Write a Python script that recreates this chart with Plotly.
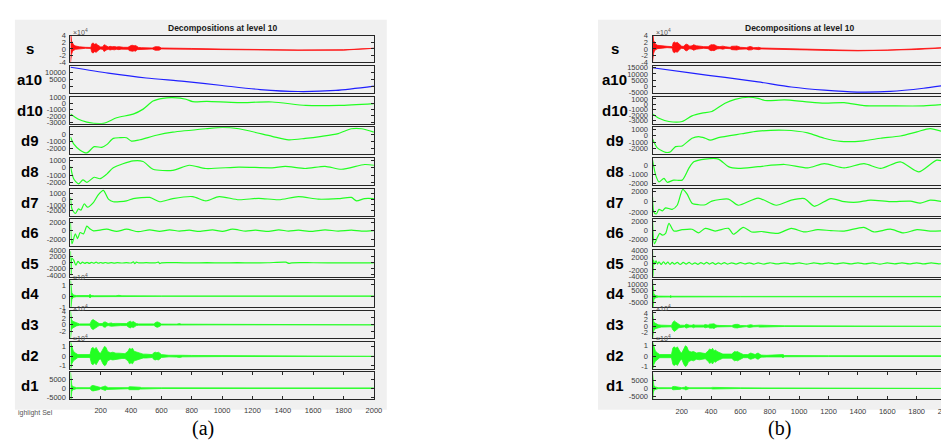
import plotly.graph_objects as go

W, H = 949, 441
ROWS = ['s', 'a10', 'd10', 'd9', 'd8', 'd7', 'd6', 'd5', 'd4', 'd3', 'd2', 'd1']
X_TICKS = [200, 400, 600, 800, 1000, 1200, 1400, 1600, 1800, 2000]

# ---------------- panel (a) data ----------------
S_A_X = [1, 4, 8, 14, 22, 35, 60, 100,
         135, 142, 150, 160, 170, 180, 190, 200,
         215, 222, 230, 240, 250, 262, 275, 290, 305, 320, 335, 350,
         380, 390, 400, 410, 420, 430, 440, 450, 470,
         500, 540, 560, 570, 585, 600,
         650, 700, 800, 1000, 1200, 1500, 1800, 2000]
S_A_MID = [0.4, 0.4, 0.4, 0.4, 0.4, 0.4, 0.4, 0.35,
           0.3, 0.3, 0.3, 0.3, 0.3, 0.3, 0.3, 0.3,
           0.25, 0.25, 0.25, 0.25, 0.25, 0.25, 0.25, 0.25, 0.25, 0.25, 0.25, 0.25,
           0.2, 0.2, 0.2, 0.2, 0.2, 0.2, 0.2, 0.2, 0.2,
           0.15, 0.15, 0.15, 0.15, 0.15, 0.15,
           0.1, 0.1, 0.05, -0.1, -0.25, -0.35, -0.3, 0.15]
S_A_ENV = [4.5, 4.0, 2.0, 1.2, 0.8, 0.5, 0.25, 0.15,
           0.15, 1.3, 1.5, 1.1, 1.3, 0.9, 0.5, 0.3,
           0.4, 1.0, 0.9, 0.5, 0.35, 0.55, 0.4, 0.5, 0.35, 0.45, 0.3, 0.25,
           0.3, 0.7, 0.85, 0.9, 0.75, 0.85, 0.4, 0.25, 0.2,
           0.15, 0.15, 0.55, 0.6, 0.5, 0.15,
           0.12, 0.1, 0.1, 0.08, 0.07, 0.06, 0.05, 0.05]

A10_A_X = [1, 250, 500, 750, 1000, 1250, 1500, 1750, 2000]
A10_A_Y = [14000, 9800, 6300, 3900, 900, -2000, -3400, -2600, 500]

D10_A_X = [1, 50, 109, 218, 305, 414, 480, 545, 610, 675, 763, 806, 900, 1100, 1330, 1550, 1770, 2000]
D10_A_Y = [-1700, -2500, -3000, -3200, -2300, -1700, -900, 400, 850, 950, 700, 300, 350, 150, 250, -300, -300, 0]

D9_A_X = [1, 22, 65, 109, 157, 207, 240, 283, 327, 370, 403, 458, 567, 675, 893, 1002, 1111,
          1329, 1438, 1547, 1656, 1765, 1852, 1918, 2000]
D9_A_Y = [-400, -1400, -2300, -2700, -1800, -1900, -1500, -600, -500, -500, -1000, -800, -150, 300, 800, 1000, 800,
          -300, -800, -600, -300, 100, 800, 800, 300]

D8_A_X = [1, 22, 54, 83, 109, 157, 196, 240, 283, 414, 479, 545, 675, 784, 893, 1111, 1329, 1416,
          1547, 1678, 1787, 1939, 2000]
D8_A_Y = [200, -1500, -2200, -1650, -2000, -1300, -1500, -870, 0, 950, 870, -200, -350, 350, -100, 100, 0, 200,
          -100, 200, -200, 450, 350]

D7_A_X = [1, 11, 33, 54, 70, 92, 113, 153, 185, 218, 251, 283, 370, 414, 523, 588, 675, 806, 893, 980,
          1111, 1242, 1373, 1503, 1634, 1765, 1852, 1885, 1939, 2000]
D7_A_Y = [300, -1700, -2500, -1700, -1900, -800, -1400, -550, 800, 1550, 0, -450, -300, 100, 300, -450, 100, 450,
          -300, 450, -100, 150, -100, 450, 0, 100, 300, -300, 100, 100]

D6_A_X = [1, 11, 33, 48, 65, 87, 109, 131, 153, 240, 305, 370, 447, 523, 588, 654, 719, 784, 850, 937, 1002,
          1068, 1155, 1220, 1307, 1373, 1438, 1503, 1591, 1678, 1765, 1852, 1918, 2000]
D6_A_Y = [1800, -3000, -700, -1800, -400, -700, 1100, 400, 0, 370, -150, 370, -200, 220, -150, 220, -70, 150,
          -150, 220, -150, 370, -70, 150, -150, 220, -70, 150, -150, 220, -70, 150, -70, 50]

D5_A_X = [1, 5, 10, 22, 37, 50, 65, 80, 95, 110, 125, 140, 155, 170, 185, 200, 215, 230, 250, 270, 290, 310,
          340, 370, 400, 415, 425, 435, 450, 500, 560, 580, 590, 600, 700, 800, 900, 1000, 1100, 1200, 1300,
          1420, 1440, 1460, 1600, 1800, 2000]
D5_A_Y = [3800, -4000, 1500, 900, -800, 500, -300, 200, -200, 150, -200, 150, -150, 200, -150, 100, -100, 100,
          -100, 80, -80, 60, -60, 50, -50, 300, -300, 200, 0, 30, -30, 250, -250, 0, 30, -30, 30, -30, 30, -30,
          20, 200, -200, 0, 20, -20, 0]

D4_A_X = [1, 3, 6, 10, 20, 40, 120, 130, 140, 160, 300, 320, 340, 450, 460, 470, 600, 2000]
D4_A_ENV = [1.5, 1.0, 0.6, 0.3, 0.1, 0.05, 0.05, 0.15, 0.05, 0.03, 0.03, 0.07, 0.03, 0.02, 0.05, 0.02, 0.02, 0.015]

D3_A_X = [1, 4, 8, 15, 25, 40, 60, 130, 140, 150, 160, 170, 180, 190, 210, 220, 230, 240, 250, 270, 280, 300,
          330, 370, 385, 395, 405, 415, 425, 435, 450, 550, 565, 575, 590, 600, 700, 720, 730, 900, 2000]
D3_A_ENV = [4.2, 3, 1.5, 1.0, 0.8, 0.4, 0.2, 0.2, 1.2, 1.5, 1.2, 0.9, 0.6, 0.3, 0.3, 0.7, 0.8, 0.4, 0.3, 0.5,
            0.3, 0.35, 0.3, 0.3, 0.8, 1.0, 0.7, 0.9, 0.6, 0.3, 0.2, 0.2, 0.7, 0.8, 0.5, 0.15, 0.12, 0.3, 0.12,
            0.1, 0.08]

D2_A_X = [1, 3, 6, 10, 20, 35, 50, 130, 140, 150, 160, 170, 180, 190, 200, 215, 225, 235, 245, 255, 265, 280,
          300, 320, 340, 360, 380, 390, 400, 410, 420, 430, 440, 460, 480, 500, 540, 550, 560, 570, 580, 590,
          600, 650, 700, 720, 740, 800, 1000, 2000]
D2_A_ENV = [1.5, 1.4, 1.2, 0.8, 0.5, 0.3, 0.15, 0.15, 0.8, 0.9, 0.7, 0.9, 0.6, 0.35, 0.3, 0.8, 1.0, 0.9, 0.5,
            0.4, 0.35, 0.4, 0.3, 0.3, 0.25, 0.25, 0.5, 0.8, 0.7, 0.8, 0.5, 0.45, 0.35, 0.3, 0.2, 0.2, 0.15,
            0.35, 0.4, 0.35, 0.4, 0.3, 0.15, 0.08, 0.1, 0.15, 0.08, 0.06, 0.05, 0.03]

D1_A_X = [1, 3, 6, 10, 20, 40, 130, 140, 150, 170, 190, 200, 220, 230, 240, 250, 380, 390, 420, 450, 460, 470,
          600, 2000]
D1_A_ENV = [9000, 6000, 3000, 1500, 800, 300, 250, 1300, 1500, 1200, 800, 350, 900, 1200, 700, 300, 300, 800,
            700, 800, 500, 250, 180, 120]

# ---------------- panel (b) data ----------------
S_B_X = [1, 4, 8, 14, 22, 35, 60, 100,
         135, 142, 150, 160, 170, 180, 190, 200,
         215, 225, 235, 245, 255, 270, 280, 290, 300, 315, 330, 350,
         380, 390, 400, 410, 420, 430, 440, 460, 480, 500,
         530, 540, 550, 565, 575, 590, 600,
         640, 655, 665, 675, 690,
         715, 725, 740,
         800, 1000, 1200, 1400, 1600, 1800, 2000]
S_B_MID = [0.6, 0.6, 0.6, 0.6, 0.6, 0.6, 0.6, 0.6,
           0.5, 0.5, 0.5, 0.5, 0.5, 0.5, 0.5, 0.5,
           0.45, 0.45, 0.45, 0.45, 0.45, 0.45, 0.45, 0.45, 0.45, 0.45, 0.45, 0.45,
           0.4, 0.4, 0.4, 0.4, 0.4, 0.4, 0.4, 0.4, 0.4, 0.4,
           0.3, 0.3, 0.3, 0.3, 0.3, 0.3, 0.3,
           0.2, 0.2, 0.2, 0.2, 0.2,
           0.15, 0.15, 0.15,
           0.1, -0.1, -0.35, -0.5, -0.4, -0.1, 0.4]
S_B_ENV = [4.5, 4.0, 2.0, 1.2, 0.8, 0.5, 0.3, 0.2,
           0.2, 1.4, 1.6, 1.3, 1.5, 1.0, 0.5, 0.3,
           0.35, 0.9, 1.0, 0.6, 0.4, 0.5, 0.8, 0.7, 0.5, 0.45, 0.3, 0.25,
           0.3, 0.7, 0.9, 0.85, 0.9, 0.7, 0.4, 0.3, 0.45, 0.25,
           0.2, 0.5, 0.6, 0.55, 0.6, 0.4, 0.2,
           0.2, 0.5, 0.55, 0.45, 0.2,
           0.3, 0.35, 0.15,
           0.12, 0.1, 0.08, 0.07, 0.06, 0.06, 0.05]

A10_B_X = [1, 270, 495, 720, 946, 1171, 1396, 1621, 1847, 2000]
A10_B_Y = [15000, 10600, 7200, 3600, -500, -3100, -4600, -4100, -1500, 1000]

D10_B_X = [1, 45, 113, 203, 270, 338, 405, 495, 563, 653, 720, 766, 901, 1036, 1171, 1306, 1441, 1621, 1847, 2000]
D10_B_Y = [-1800, -2600, -3200, -3200, -2150, -1650, -1350, 200, 900, 1300, 1100, 700, 800, 500, 200, 300, -250,
           -300, -300, 0]

D9_B_X = [1, 34, 90, 124, 158, 203, 270, 315, 360, 394, 450, 608, 720, 901, 1058, 1171, 1284, 1441, 1554, 1689,
          1802, 1892, 2000]
D9_B_Y = [-500, -1900, -2600, -2500, -1700, -1600, -400, -150, -400, -700, -300, 300, 700, 850, 450, -400, -900,
          -800, -400, -50, 600, 1100, 450]

D8_B_X = [1, 23, 45, 79, 101, 146, 203, 248, 282, 360, 450, 518, 585, 720, 901, 1058, 1171, 1306, 1441, 1554,
          1689, 1813, 1937, 2000]
D8_B_Y = [650, -1100, -1850, -1450, -1900, -1650, -1650, -300, 450, 770, 770, -100, -300, -100, 150, -250, 250,
          -250, 250, -300, 450, -700, 650, 400]

D7_B_X = [1, 11, 27, 45, 68, 90, 135, 169, 207, 236, 270, 315, 360, 405, 518, 585, 720, 844, 946, 1036, 1103,
          1216, 1306, 1396, 1486, 1621, 1757, 1824, 1892, 2000]
D7_B_Y = [900, -2100, -2400, -1500, -1800, -1200, -1500, -700, 2400, 1500, -300, -600, -600, 100, 500, -700, 700,
          -700, 300, 600, -900, 600, 0, -100, 300, 0, 100, -300, 300, -100]

D6_B_X = [1, 14, 34, 50, 68, 90, 113, 146, 203, 270, 315, 360, 428, 518, 552, 619, 676, 743, 856, 946, 1036,
          1126, 1216, 1306, 1441, 1509, 1621, 1711, 1802, 1892, 2000]
D6_B_Y = [2300, -2900, -1500, -600, -1000, -600, 1600, -100, 200, 300, -500, 500, -100, 500, -800, 700, -300,
          -200, -600, 500, -300, 200, 0, -100, 700, -300, 300, -500, 200, -100, 0]

D5_B_X = [1, 4, 8, 15, 25, 35, 45, 60, 75, 90, 105, 120, 135, 150, 170, 190, 210, 230, 250, 270, 290, 310, 330,
          350, 370, 390, 410, 430, 450, 470, 490, 510, 540, 570, 600, 630, 660, 690, 720, 760, 800, 850, 900,
          950, 1000, 1050, 1100, 1150, 1200, 1250, 1300, 1350, 1400, 1450, 1500, 1550, 1600, 1650, 1700, 1750,
          1800, 1850, 1900, 1950, 2000]
D5_B_Y = [3800, -4000, 1000, -300, 800, -200, 500, -300, 500, -200, 400, -300, 300, -200, 300, -300, 300, -200,
          300, -250, 200, -300, 250, -200, 300, -200, 250, -300, 200, -200, 250, -200, 200, -200, 250, -150, 200,
          -200, 150, -200, 200, -150, 200, -150, 150, -200, 150, -150, 200, -150, 150, -150, 200, -150, 150, -200,
          150, -150, 150, -150, 200, -150, 150, -150, 100]

D4_B_X = [1, 3, 6, 10, 20, 40, 120, 125, 130, 200, 280, 290, 300, 400, 600, 2000]
D4_B_ENV = [13000, 9000, 5000, 2500, 1000, 400, 300, 1000, 300, 250, 250, 700, 250, 200, 180, 150]

D3_B_X = [1, 4, 8, 15, 25, 40, 60, 130, 140, 150, 160, 170, 180, 190, 220, 230, 240, 250, 270, 280, 290,
          330, 350, 360, 380, 390, 400, 410, 420, 430, 440, 460, 480, 500, 510, 520, 540, 560, 570, 580, 590, 600,
          640, 660, 670, 690, 720, 730, 900, 2000]
D3_B_ENV = [4.6, 3, 1.5, 1.0, 0.7, 0.4, 0.3, 0.2, 1.2, 1.6, 1.2, 0.9, 0.5, 0.3, 0.25, 0.6, 0.5, 0.3, 0.25, 0.5,
            0.3, 0.25, 0.3, 0.5, 0.3, 0.6, 0.7, 0.6, 0.7, 0.4, 0.25, 0.2, 0.2, 0.35, 0.3, 0.15, 0.15, 0.5, 0.6,
            0.55, 0.4, 0.2, 0.15, 0.4, 0.45, 0.2, 0.15, 0.3, 0.1, 0.06]

D2_B_X = [1, 3, 6, 10, 20, 35, 50, 130, 140, 150, 160, 170, 180, 190, 200, 215, 225, 235, 245, 255, 265, 280,
          300, 320, 340, 360, 380, 390, 400, 410, 420, 430, 440, 460, 480, 540, 550, 560, 570, 580, 590, 600, 620,
          650, 660, 670, 680, 700, 710, 720, 730, 740, 780, 880, 890, 900, 1000, 1200, 2000]
D2_B_ENV = [1.4, 1.3, 1.2, 0.8, 0.5, 0.3, 0.15, 0.15, 0.8, 0.9, 0.75, 0.9, 0.6, 0.4, 0.3, 0.8, 1.0, 0.9, 0.55,
            0.45, 0.4, 0.45, 0.3, 0.35, 0.3, 0.25, 0.5, 0.7, 0.6, 0.75, 0.5, 0.6, 0.45, 0.3, 0.2, 0.2, 0.35, 0.45,
            0.4, 0.45, 0.35, 0.3, 0.15, 0.15, 0.25, 0.3, 0.25, 0.15, 0.25, 0.3, 0.2, 0.1, 0.08, 0.08, 0.15, 0.06,
            0.05, 0.04, 0.03]

D1_B_X = [1, 3, 6, 10, 20, 40, 130, 140, 150, 170, 190, 200, 220, 228, 236, 250, 400, 410, 600, 2000]
D1_B_ENV = [10000, 6000, 3000, 1500, 800, 300, 250, 1000, 1100, 900, 700, 300, 600, 1100, 600, 250, 250, 500,
            200, 150]

RED, BLUE, GREEN = '#ff1010', '#2020ff', '#22ff22'

# row specs: (kind, data..., colour, y range, y ticks, exponent shown)
PANEL_A = [
    ('band', S_A_X, S_A_MID, S_A_ENV, RED, [-4.05, 4.05], [-4, -2, 0, 2, 4], True),
    ('line', A10_A_X, A10_A_Y, None, BLUE, [-4500, 14800], [0, 5000, 10000], False),
    ('line', D10_A_X, D10_A_Y, None, GREEN, [-3250, 1100], [-3000, -2000, -1000, 0, 1000], False),
    ('line', D9_A_X, D9_A_Y, None, GREEN, [-2900, 1000], [-2000, -1000, 0], False),
    ('line', D8_A_X, D8_A_Y, None, GREEN, [-2350, 1350], [-2000, -1000, 0, 1000], False),
    ('line', D7_A_X, D7_A_Y, None, GREEN, [-2850, 1850], [-2000, -1000, 0, 1000], False),
    ('line', D6_A_X, D6_A_Y, None, GREEN, [-3550, 2700], [-2000, 0, 2000], False),
    ('line', D5_A_X, D5_A_Y, None, GREEN, [-4600, 4300], [-4000, -2000, 0, 2000, 4000], False),
    ('band', D4_A_X, None, D4_A_ENV, GREEN, [-1.0, 1.4], [-1, 0, 1], True),
    ('band', D3_A_X, None, D3_A_ENV, GREEN, [-4.0, 4.05], [-2, 0, 2, 4], True),
    ('band', D2_A_X, None, D2_A_ENV, GREEN, [-1.3, 1.5], [-1, 0, 1], True),
    ('band', D1_A_X, None, D1_A_ENV, GREEN, [-6000, 8700], [-5000, 0, 5000], False),
]
PANEL_B = [
    ('band', S_B_X, S_B_MID, S_B_ENV, RED, [-4.05, 4.05], [-4, -2, 0, 2, 4], True),
    ('line', A10_B_X, A10_B_Y, None, BLUE, [-5400, 16300], [-5000, 0, 5000, 10000, 15000], False),
    ('line', D10_B_X, D10_B_Y, None, GREEN, [-3600, 1400], [-3000, -2000, -1000, 0, 1000], False),
    ('line', D9_B_X, D9_B_Y, None, GREEN, [-2900, 1300], [-2000, -1000, 0, 1000], False),
    ('line', D8_B_X, D8_B_Y, None, GREEN, [-2200, 900], [-2000, -1000, 0], False),
    ('line', D7_B_X, D7_B_Y, None, GREEN, [-2700, 2550], [-2000, 0, 2000], False),
    ('line', D6_B_X, D6_B_Y, None, GREEN, [-3400, 2500], [-2000, 0, 2000], False),
    ('line', D5_B_X, D5_B_Y, None, GREEN, [-4100, 4200], [-4000, -2000, 0, 2000, 4000], False),
    ('band', D4_B_X, None, D4_B_ENV, GREEN, [-8600, 13000], [-5000, 0, 5000, 10000], False),
    ('band', D3_B_X, None, D3_B_ENV, GREEN, [-3.6, 4.6], [-2, 0, 2, 4], True),
    ('band', D2_B_X, None, D2_B_ENV, GREEN, [-1.2, 1.4], [-1, 0, 1], True),
    ('band', D1_B_X, None, D1_B_ENV, GREEN, [-6900, 10000], [-5000, 0, 5000], False),
]

PANELS = [
    dict(spec=PANEL_A, x0=63, x1=369, label_x=22, tag='(a)', tag_x=197, bg=(7, 382), xlab_pad=4, cut='ighlight Sel'),
    dict(spec=PANEL_B, x0=650, x1=946, label_x=612, tag='(b)', tag_x=778, bg=(595, 949), xlab_pad=5, cut=''),
]

TOP0, PITCH, AXH = 24.0, 31.25, 27.5
FONT = 'Liberation Sans, Arial, sans-serif'
TICKFONT = dict(family=FONT, size=7.5, color='#3a3a3a')

fig = go.Figure()
layout = dict(width=W, height=H, margin=dict(l=0, r=0, t=0, b=0), autosize=False,
              paper_bgcolor='white', plot_bgcolor='white', showlegend=False)
shapes, annotations = [], []


def fy(p):
    return 1 - p / H


for p, panel in enumerate(PANELS):
    gx0, gx1 = panel['bg']
    shapes.append(dict(type='rect', xref='paper', yref='paper', x0=gx0 / W, x1=gx1 / W,
                       y0=fy(406), y1=fy(8), fillcolor='#f0f0f0', line=dict(width=0), layer='below'))
    cx = (panel['x0'] + panel['x1']) / 2
    annotations.append(dict(text='<b>Decompositions at level 10</b>', x=cx / W, y=fy(16.5), xref='paper',
                            yref='paper', showarrow=False, xanchor='center', yanchor='middle',
                            font=dict(family=FONT, size=8.5, color='#1a1a1a')))
    annotations.append(dict(text=panel['tag'], x=panel['tag_x'] / W, y=fy(425), xref='paper', yref='paper',
                            showarrow=False, xanchor='center', yanchor='middle',
                            font=dict(family='Liberation Serif, Times New Roman, serif', size=20, color='black')))
    if panel['cut']:
        annotations.append(dict(text=panel['cut'], x=8 / W, y=fy(409), xref='paper', yref='paper',
                                showarrow=False, xanchor='left', yanchor='middle',
                                font=dict(family=FONT, size=7, color='#555')))
    for i, (kind, xs, mid, vals, col, yr, yt, expo) in enumerate(panel['spec']):
        n = p * 12 + i + 1
        xa = 'x' if n == 1 else f'x{n}'
        ya = 'y' if n == 1 else f'y{n}'
        top = TOP0 + i * PITCH
        bot = top + AXH
        last = (i == len(ROWS) - 1)
        layout['xaxis' if n == 1 else f'xaxis{n}'] = dict(
            domain=[panel['x0'] / W, panel['x1'] / W], anchor=ya, range=[1, 2000],
            showline=True, linecolor='#262626', linewidth=1, mirror='ticks' if last else True,
            ticks='inside' if last else '', ticklen=3, tickcolor='#262626', tickwidth=1,
            tickvals=X_TICKS, showticklabels=last, tickfont=TICKFONT, ticklabelstandoff=panel['xlab_pad'],
            showgrid=False, zeroline=False, fixedrange=True)
        layout['yaxis' if n == 1 else f'yaxis{n}'] = dict(
            domain=[fy(bot), fy(top)], anchor=xa, range=yr,
            showline=True, linecolor='#262626', linewidth=1, mirror='ticks',
            ticks='inside', ticklen=3, tickcolor='#262626', tickwidth=1,
            tickvals=yt, ticktext=[str(v) for v in yt], tickfont=TICKFONT, ticklabelstandoff=2,
            showgrid=False, zeroline=False, fixedrange=True)
        if kind == 'line':
            fig.add_trace(go.Scatter(x=xs, y=mid, mode='lines', xaxis=xa, yaxis=ya,
                                     line=dict(color=col, width=1.2, shape='spline', smoothing=0.7),
                                     hoverinfo='skip'))
        else:
            centre = mid if mid is not None else [0] * len(xs)
            hi = [c + e for c, e in zip(centre, vals)]
            lo = [c - e for c, e in zip(centre, vals)]
            fig.add_trace(go.Scatter(x=list(xs) + list(xs)[::-1], y=hi + lo[::-1], mode='lines',
                                     xaxis=xa, yaxis=ya, fill='toself', fillcolor=col,
                                     line=dict(color=col, width=0.8), hoverinfo='skip'))
        annotations.append(dict(text='<b>' + ROWS[i] + '</b>', x=panel['label_x'] / W, y=fy((top + bot) / 2),
                                xref='paper', yref='paper', showarrow=False, xanchor='center',
                                yanchor='middle', font=dict(family=FONT, size=15, color='black')))
        if expo:
            annotations.append(dict(text='×10<sup>4</sup>', x=(panel['x0'] + 1) / W, y=fy(top - 3.5),
                                    xref='paper', yref='paper', showarrow=False, xanchor='left',
                                    yanchor='middle', font=dict(family=FONT, size=7, color='#555')))

layout['shapes'] = shapes
layout['annotations'] = annotations
fig.update_layout(**layout)
fig.write_html('out.html')
